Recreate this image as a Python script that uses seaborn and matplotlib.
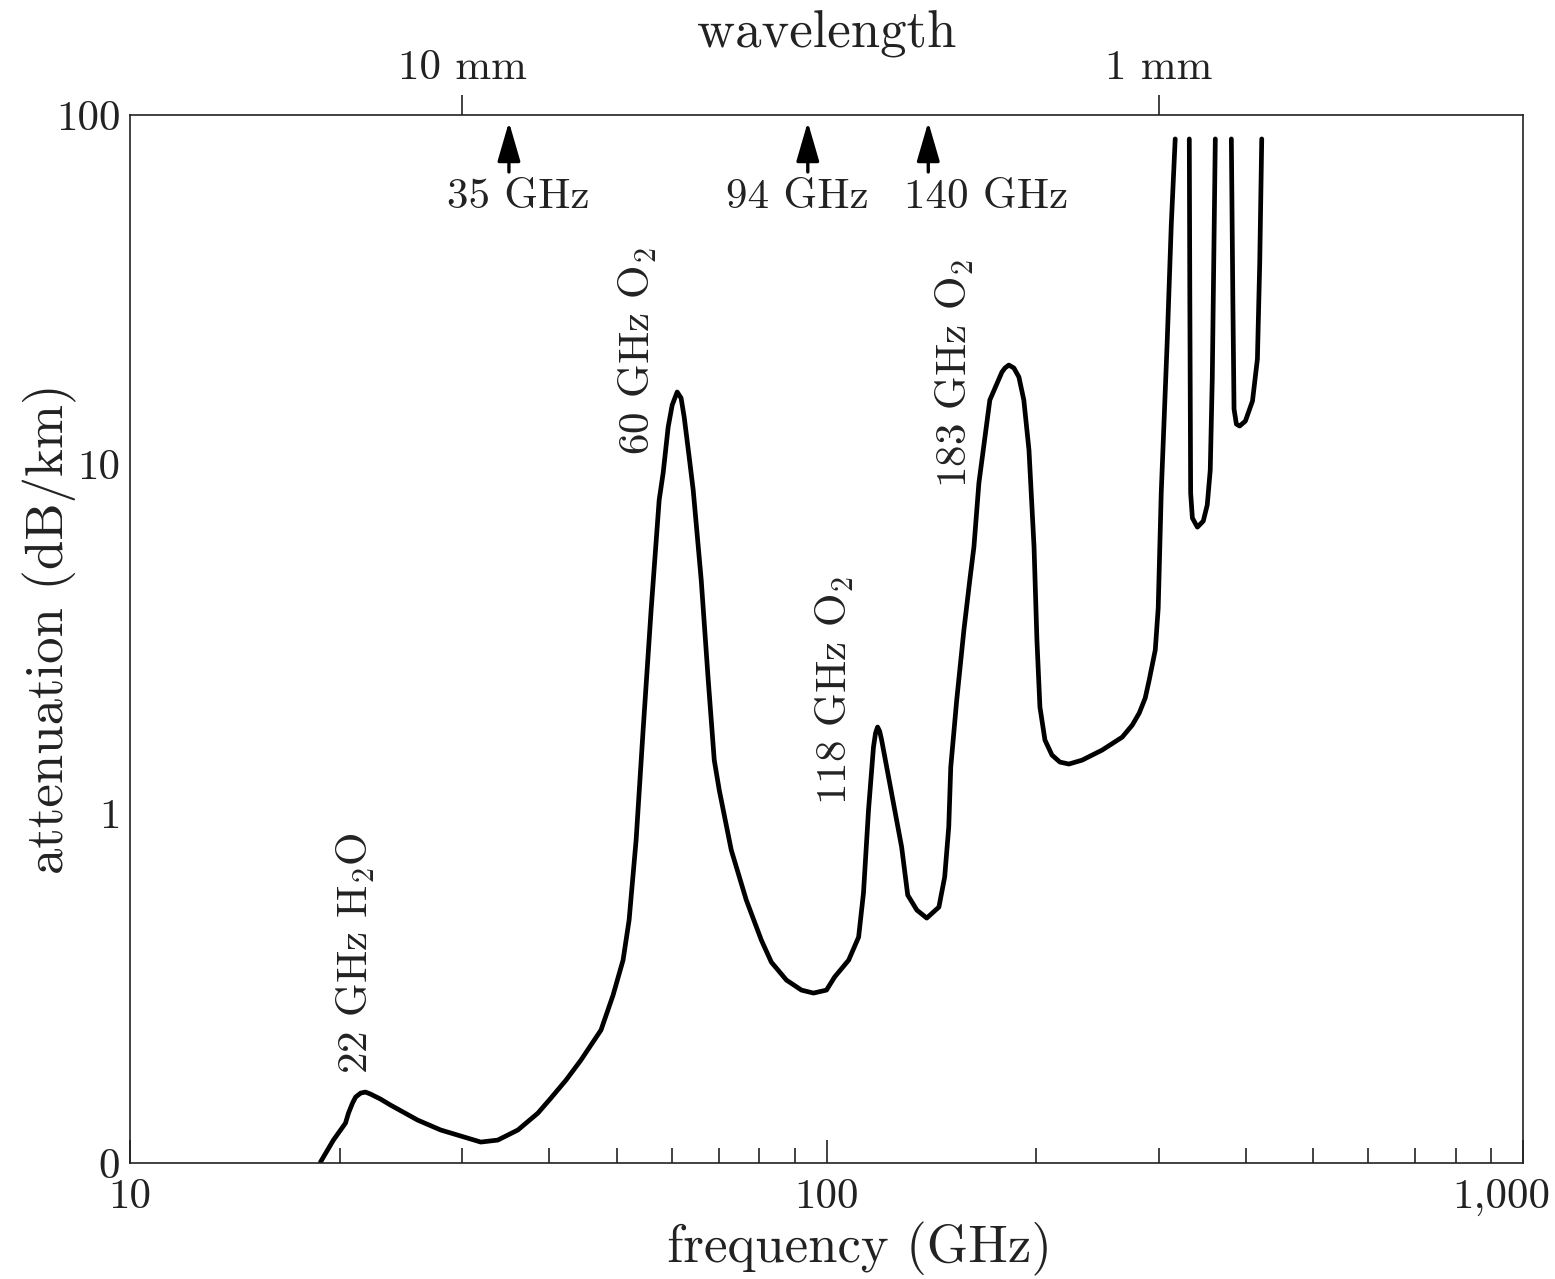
import numpy as np
import pandas as pd
import matplotlib
matplotlib.use("Agg")
import matplotlib.pyplot as plt
import matplotlib.transforms as mtransforms
import seaborn as sns
from matplotlib.ticker import LogLocator, NullFormatter, NullLocator

# ---- data (frequency GHz, attenuation dB/km) ----
freq_main = [18.77, 19.59, 20.39, 20.59, 20.87, 21.08, 21.43, 21.78, 22.15, 22.89,
             23.66, 25.88, 27.93, 29.54, 31.89, 33.73, 36.05, 38.51, 40.21, 42.27,
             44.41, 47.45, 49.38, 51.04, 52.07, 53.29, 54.54, 56.00, 57.51, 58.27,
             59.25, 60.04, 61.04, 61.83, 62.47, 63.51, 64.36, 66.09, 67.64, 69.00,
             70.15, 72.99, 76.71, 80.62, 83.33, 87.58, 92.04, 95.78, 100.0, 102.7,
             107.6, 111.2, 113.0, 114.9, 116.8, 117.6, 118.4, 119.2, 120.0, 124.0,
             128.2, 130.8, 134.8, 139.3, 145.0, 147.8, 149.8, 150.8, 153.8, 157.5,
             160.6, 162.8, 165.5, 171.6, 178.6, 180.4, 182.7, 185.8, 188.9, 192.0,
             195.3, 198.6, 200.5, 202.5, 205.9, 210.7, 216.3, 222.9, 232.8, 248.8,
             265.8, 274.8, 281.2, 286.8, 290.6, 296.5, 299.4, 302.4, 308.5, 312.6,
             316.7]
att_main = [0.1006, 0.1163, 0.1301, 0.1389, 0.1485, 0.1544, 0.1585, 0.1596, 0.1575, 0.1524,
            0.1465, 0.1327, 0.1243, 0.1202, 0.1148, 0.1163, 0.1243, 0.1389, 0.1534, 0.1727,
            0.1971, 0.2402, 0.3023, 0.3808, 0.4958, 0.840, 1.735, 3.827, 7.90, 9.44,
            12.79, 14.78, 16.11, 15.48, 13.66, 10.49, 8.44, 4.664, 2.412, 1.423,
            1.168, 0.7868, 0.5657, 0.4346, 0.3758, 0.3340, 0.3126, 0.3065, 0.3126, 0.3406,
            0.3808, 0.4433, 0.5923, 1.024, 1.551, 1.701, 1.770, 1.723, 1.624, 1.145,
            0.8024, 0.5847, 0.5297, 0.5025, 0.5402, 0.6586, 0.9154, 1.359, 2.114, 3.355,
            4.664, 5.799, 8.84, 15.28, 18.37, 18.87, 19.24, 18.87, 17.78, 15.28,
            10.99, 5.799, 3.141, 2.019, 1.624, 1.472, 1.405, 1.387, 1.423, 1.521,
            1.656, 1.793, 1.941, 2.142, 2.412, 2.94, 3.878, 8.28, 22.7, 48.4,
            85.4]

freq_band2 = [331.8, 332.4, 333.3, 335.2, 340.8, 347.5, 352.1, 355.6, 358.0, 361.6]
att_band2 = [85.4, 29.5, 8.28, 7.02, 6.61, 6.88, 7.65, 9.63, 17.67, 85.4]

freq_band3 = [381.3, 383.2, 384.7, 387.7, 391.9, 399.4, 408.9, 415.6, 418.8, 421.6]
att_band3 = [85.4, 29.5, 14.39, 13.04, 12.87, 13.30, 15.18, 20.02, 37.7, 85.4]

line_labels = ["22 GHz H$_2$O", "60 GHz O$_2$", "118 GHz O$_2$", "183 GHz O$_2$"]
line_freqs = [21.1, 53.6, 102.7, 152.8]
line_label_att = [0.18, 10.6, 1.06, 8.55]

band_labels = ["35 GHz", "94 GHz", "140 GHz"]
band_freqs = [35, 94, 140]
band_label_freqs = [36.06, 90.8, 169.3]

x_ticks = [10, 100, 1000]
x_ticklabels = ["10", "100", "1,000"]
y_ticks = [0.1, 1, 10, 100]
y_ticklabels = ["0", "1", "10", "100"]
wl_ticks_ghz = [30, 300]
wl_ticklabels = ["10 mm", "1 mm"]

# ---- style ----
sns.set_theme(style="white")
plt.rcParams.update({
    "font.family": "serif",
    "font.serif": ["cmr10"],
    "mathtext.fontset": "cm",
    "axes.formatter.use_mathtext": True,
    "axes.unicode_minus": False,
    "text.color": "#222222",
    "axes.edgecolor": "#222222",
    "axes.linewidth": 1.2,
    "xtick.color": "#222222",
    "ytick.color": "#222222",
    "axes.labelcolor": "#222222",
})

fig = plt.figure(figsize=(15.55, 12.79), dpi=100)
ax = fig.add_axes([130 / 1555, 1 - 1163 / 1279, (1523 - 130) / 1555, (1163 - 115) / 1279])

ax.set_xscale("log")
ax.set_yscale("log")

for fx, fy in [(freq_main, att_main), (freq_band2, att_band2), (freq_band3, att_band3)]:
    df = pd.DataFrame({"f": fx, "a": fy})
    sns.lineplot(data=df, x="f", y="a", sort=False, estimator=None, color="black",
                 linewidth=3.4, ax=ax, solid_capstyle="round", solid_joinstyle="round")

ax.set_xlim(10, 1000)
ax.set_ylim(0.1, 100)

ax.set_xticks(x_ticks)
ax.set_xticklabels(x_ticklabels)
ax.set_yticks(y_ticks)
ax.set_yticklabels(y_ticklabels)
ax.xaxis.set_minor_locator(LogLocator(base=10, subs=np.arange(2, 10)))
ax.yaxis.set_minor_locator(LogLocator(base=10, subs=np.arange(2, 10)))
ax.xaxis.set_minor_formatter(NullFormatter())
ax.yaxis.set_minor_formatter(NullFormatter())
ax.tick_params(which="both", direction="in", top=True, right=False, width=1.2)
ax.tick_params(which="major", length=16.5, labelsize=31)
ax.tick_params(axis="x", which="major", pad=11)
ax.tick_params(axis="y", which="major", pad=7)
ax.tick_params(which="minor", length=10.5)

# shift the "1,000" label left, as in the reference
last = ax.get_xticklabels()[-1]
last.set_transform(last.get_transform() + mtransforms.ScaledTranslation(-0.22, 0, fig.dpi_scale_trans))

ax.set_xlabel("frequency (GHz)", fontsize=38)
ax.xaxis.set_label_coords(0.524, -0.056)
ax.set_ylabel("attenuation (dB/km)", fontsize=38)
ax.yaxis.set_label_coords(-0.038, 0.51)

# wavelength axis on top
ax2 = ax.twiny()
ax2.set_xscale("log")
ax2.set_xlim(10, 1000)
ax2.set_xticks(wl_ticks_ghz)
ax2.set_xticklabels(wl_ticklabels)
ax2.xaxis.set_minor_locator(NullLocator())
ax2.tick_params(axis="x", direction="out", length=14.5, width=1.2, labelsize=31, pad=6)
ax2.set_xlabel("wavelength", fontsize=38, labelpad=1)
for s in ax2.spines.values():
    s.set_visible(False)

# absorption line labels
for lab, fx, fy in zip(line_labels, line_freqs, line_label_att):
    ax.text(fx, fy, lab, rotation=90, ha="center", va="bottom", fontsize=31)

# band arrows
for lab, fx, lx in zip(band_labels, band_freqs, band_label_freqs):
    ax.annotate("", xy=(fx, 95.5), xytext=(fx, 68.7),
                arrowprops=dict(arrowstyle="-|>,head_length=1.1,head_width=0.32",
                                color="black", lw=2.4, mutation_scale=22,
                                shrinkA=0, shrinkB=0))
    ax.text(lx, 58.2, lab, ha="center", va="center", fontsize=31)

fig.savefig("out.png", dpi=100)
